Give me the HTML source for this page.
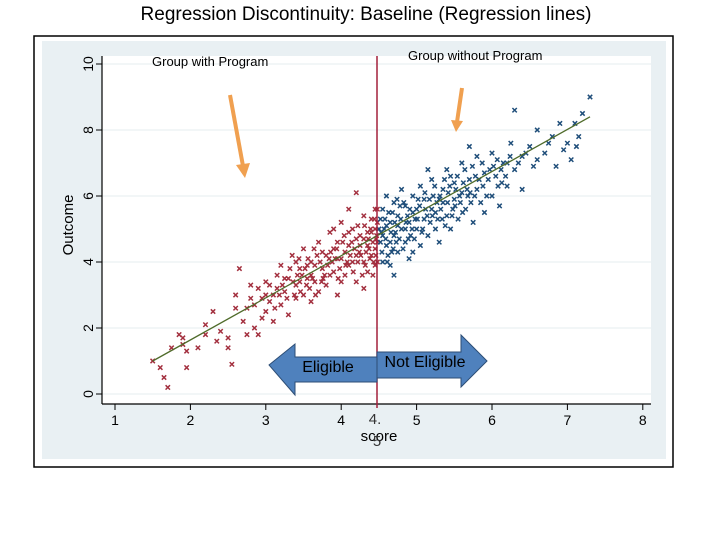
<!DOCTYPE html>
<html><head><meta charset="utf-8"><style>
body{margin:0;background:#fff;width:720px;height:540px;overflow:hidden;font-family:"Liberation Sans",sans-serif}
</style></head><body>
<svg width="720" height="540" xmlns="http://www.w3.org/2000/svg">
<text x="366" y="20" text-anchor="middle" font-size="19" fill="#000">Regression Discontinuity: Baseline  (Regression lines)</text>
<rect x="34" y="36" width="639" height="431" fill="none" stroke="#000" stroke-width="1.5"/>
<rect x="42" y="41" width="624" height="418" fill="#e9f0f3"/>
<rect x="102" y="56" width="549" height="348" fill="#fff"/>
<g id="grid"></g>
<g id="yaxis"></g>
<g id="xaxis"></g>
<g id="pts"></g>
<g id="fit"></g>
<line x1="377" y1="56" x2="377" y2="408" stroke="#a3203c" stroke-width="1.5"/>
<text transform="translate(73,225) rotate(-90)" text-anchor="middle" font-size="15">Outcome</text>
<text x="379" y="441" text-anchor="middle" font-size="15">score</text>
<text x="375" y="424" text-anchor="middle" font-size="15" fill="#333">4.</text>
<text x="377" y="446" text-anchor="middle" font-size="15" fill="#333">5</text>
<text x="152" y="66" font-size="13">Group with Program</text>
<text x="408" y="60" font-size="13">Group without Program</text>
<g><line x1="230" y1="95" x2="243" y2="166" stroke="#f0a050" stroke-width="4"/><polygon points="236,165 250,163 245,178" fill="#f0a050"/></g>
<g><line x1="462" y1="88" x2="457" y2="122" stroke="#f0a050" stroke-width="4"/><polygon points="451,120 463,121 456,132" fill="#f0a050"/></g>
<g><polygon points="269,365 295,344 295,357 377,357 377,382 295,382 295,395" fill="#4f81bd" stroke="#2c4d75" stroke-width="1"/><text x="328" y="372" text-anchor="middle" font-size="16" fill="#000">Eligible</text></g>
<g><polygon points="377,352 461,352 461,335 487,361 461,387 461,378 377,378" fill="#4f81bd" stroke="#2c4d75" stroke-width="1"/><text x="425" y="367" text-anchor="middle" font-size="16" fill="#000">Not Eligible</text></g>
</svg>
<script>
const yTicks=[0,2,4,6,8,10];
const xTicks=[1,2,3,4,5,6,7,8];
const fitX=[1.5,7.3];
const fitY=[1.0,8.4];
const redPts=[[1.5,1.0],[1.6,0.8],[1.65,0.5],[1.7,0.2],[1.75,1.4],[1.85,1.8],[1.9,1.7],[1.95,0.8],[1.95,1.3],[2.1,1.4],[2.2,2.1],[2.3,2.5],[2.35,1.6],[2.4,1.9],[2.5,1.4],[2.5,1.7],[2.55,0.9],[2.6,2.6],[2.65,3.8],[2.7,2.2],[2.75,1.8],[2.8,2.9],[2.85,2.0],[2.9,1.8],[2.9,3.2],[3.0,2.5],[3.0,3.4],[3.05,2.8],[3.1,3.0],[3.1,2.2],[3.15,3.6],[3.2,2.7],[3.2,3.9],[3.25,3.1],[3.3,2.4],[3.3,3.5],[3.35,4.2],[3.4,2.9],[3.4,3.3],[3.45,3.8],[3.5,3.0],[3.5,4.4],[3.55,3.5],[3.6,2.8],[3.6,4.0],[3.65,3.4],[3.7,4.6],[3.7,3.1],[3.75,3.8],[3.8,4.2],[3.8,3.3],[3.85,4.9],[3.9,3.7],[3.9,4.4],[3.95,3.0],[4.0,4.1],[4.0,5.2],[4.05,3.6],[4.1,4.5],[4.1,3.9],[4.15,5.0],[4.2,4.2],[4.2,3.4],[4.25,4.8],[4.3,4.0],[4.3,5.4],[4.35,4.5],[4.35,3.7],[4.4,4.9],[4.4,4.2],[4.45,5.6],[4.45,3.9],[4.48,4.6],[4.2,6.1],[4.0,3.4],[3.6,3.6],[3.4,4.0],[3.0,3.0],[2.8,3.3],[4.3,3.2],[4.48,5.2],[4.1,5.6],[3.9,5.0],[2.2,1.8],[1.9,1.5],[3.55,3.9],[3.75,4.3],[3.85,3.6],[3.95,4.6],[4.05,4.3],[4.15,4.0],[4.25,4.5],[4.35,4.9],[4.45,4.4],[4.4,5.3],[4.3,4.7],[4.2,4.7],[4.1,4.9],[3.95,4.1],[3.65,3.9],[3.45,3.4],[3.25,3.5],[3.15,3.2],[2.95,2.9],[4.45,5.0],[4.38,4.1],[4.28,3.6],[4.18,4.4],[4.08,4.0],[3.98,3.8],[3.88,4.0],[3.78,3.6],[3.68,4.2],[3.58,3.2],[3.48,3.6],[3.38,3.0],[4.47,4.8],[4.42,3.6],[4.33,4.3],[4.22,5.1],
[2.6,3.0],[2.75,2.6],[2.85,2.7],[2.95,2.3],[3.05,3.3],[3.12,2.6],[3.18,3.0],[3.22,3.3],[3.28,2.9],[3.32,3.8],[3.36,3.4],[3.42,3.6],[3.46,3.1],[3.52,3.8],[3.56,4.1],[3.62,3.5],[3.66,3.0],[3.72,4.0],[3.76,3.5],[3.82,3.9],[3.86,4.3],[3.92,4.1],[3.96,3.5],[4.02,4.6],[4.06,3.9],[4.12,4.2],[4.16,3.7],[4.22,4.0],[4.26,4.2],[4.32,3.9],[4.36,4.7],[4.42,4.6],[4.46,4.2],[4.48,4.0],[4.44,5.3],[4.39,5.0],[4.31,5.1],[4.24,4.3],[4.14,4.6],[4.04,4.8],[3.94,4.4],[3.84,4.1],[3.74,3.4],[3.64,4.4],[3.54,3.3],[3.44,4.1],[4.48,5.6],[4.46,4.7],[4.43,4.0],[4.37,4.4]];
const bluePts=[[4.5,5.0],[4.55,4.0],[4.55,5.6],[4.6,4.5],[4.6,6.0],[4.65,3.9],[4.65,5.2],[4.7,4.8],[4.7,5.8],[4.75,4.3],[4.75,5.4],[4.8,5.0],[4.8,6.2],[4.85,4.6],[4.85,5.7],[4.9,5.2],[4.9,4.1],[4.95,6.0],[5.0,5.0],[5.0,5.6],[5.05,4.5],[5.05,6.3],[5.1,5.3],[5.1,5.9],[5.15,4.8],[5.2,5.6],[5.2,6.5],[5.25,5.0],[5.3,5.9],[5.3,4.6],[5.35,6.2],[5.4,5.4],[5.4,6.8],[5.45,5.0],[5.5,5.9],[5.5,6.4],[5.55,5.3],[5.6,6.1],[5.6,7.0],[5.65,5.6],[5.7,6.5],[5.75,5.2],[5.8,6.2],[5.8,7.2],[5.85,5.8],[5.9,6.7],[6.0,6.0],[6.0,7.3],[6.05,6.6],[6.1,5.7],[6.15,7.0],[6.2,6.3],[6.25,7.6],[6.3,6.8],[6.4,7.2],[6.4,6.2],[6.5,7.5],[6.55,6.9],[6.6,8.0],[6.7,7.3],[6.8,7.8],[6.85,6.9],[6.9,8.2],[7.0,7.6],[7.05,7.1],[7.1,8.2],[7.15,7.8],[7.2,8.5],[7.3,9.0],[6.3,8.6],[5.7,7.5],[5.15,6.8],[4.95,4.3],[5.25,5.5],[4.6,5.1],[4.7,3.6],[5.9,5.5],[6.2,7.0],[5.35,5.8],[5.45,6.6],[4.52,4.6],[4.58,5.3],[4.62,4.2],[4.68,5.5],[4.72,4.9],[4.78,5.7],[4.82,4.4],[4.88,5.4],[4.92,4.8],[4.98,5.3],[5.02,5.9],[5.08,5.0],[5.12,5.6],[5.18,5.2],[5.22,6.0],[5.28,5.3],[5.32,5.6],[5.38,5.1],[5.42,6.1],[5.48,5.6],[5.52,6.2],[5.58,5.8],[5.62,6.4],[5.68,6.0],[5.72,5.8],[5.78,6.6],[5.88,6.3],[5.95,6.5],[6.08,6.3],[6.12,6.8],[4.55,4.8],[4.65,4.6],[4.75,5.1],[4.85,5.0],[4.95,5.5],
[4.52,5.3],[4.54,4.3],[4.57,5.0],[4.59,4.7],[4.63,5.5],[4.66,4.9],[4.69,4.4],[4.71,5.2],[4.74,5.9],[4.77,4.7],[4.79,5.3],[4.83,5.8],[4.86,5.2],[4.89,4.7],[4.91,5.6],[4.94,5.0],[4.97,4.7],[5.01,5.3],[5.04,5.7],[5.07,4.9],[5.11,6.1],[5.14,5.4],[5.17,5.9],[5.21,5.4],[5.24,6.3],[5.27,5.8],[5.31,6.0],[5.34,5.3],[5.37,6.5],[5.41,5.8],[5.44,6.3],[5.47,5.4],[5.51,5.7],[5.54,6.6],[5.57,6.0],[5.61,5.5],[5.64,6.8],[5.67,6.2],[5.71,6.1],[5.74,6.9],[5.77,6.0],[5.83,6.5],[5.87,7.0],[5.93,6.0],[5.97,6.8],[6.02,6.9],[6.07,7.1],[6.13,6.4],[6.18,6.6],[6.24,7.2],[6.35,7.0],[6.45,7.3],[6.6,7.1],[6.75,7.6],[6.95,7.4],[7.12,7.5],[4.53,4.9],[4.61,4.0],[4.67,4.3],[4.73,4.6]];
const X=v=>115+(v-1)*75.4, Y=v=>394-v*33;
const NS="http://www.w3.org/2000/svg";
function mk(t,a,p){const e=document.createElementNS(NS,t);for(const k in a)e.setAttribute(k,a[k]);p.appendChild(e);return e;}
const grid=document.getElementById('grid'),ya=document.getElementById('yaxis'),xa=document.getElementById('xaxis');
mk('line',{x1:102,y1:56,x2:102,y2:404,stroke:'#000','stroke-width':1.2},ya);
mk('line',{x1:102,y1:404,x2:651,y2:404,stroke:'#000','stroke-width':1.2},xa);
yTicks.forEach(v=>{
 const g=mk('line',{x1:102,y1:Y(v),x2:651,y2:Y(v),stroke:'#eaf0f2','stroke-width':1.2},grid);
 
 
 mk('line',{x1:96,y1:Y(v),x2:102,y2:Y(v),stroke:'#000'},ya);
 const t=mk('text',{transform:`translate(93,${Y(v)}) rotate(-90)`,'text-anchor':'middle','font-size':14},ya);t.textContent=v;
 
 
});
xTicks.forEach(v=>{
 mk('line',{x1:X(v),y1:404,x2:X(v),y2:410,stroke:'#000'},xa);
 const t=mk('text',{x:X(v),y:425,'text-anchor':'middle','font-size':14},xa);t.textContent=v;
 
 
});
const pts=document.getElementById('pts');
function cross(p,c){const x=X(p[0]),y=Y(p[1]),s=2.2;
 const e=mk('path',{d:`M${x-s},${y-s}L${x+s},${y+s}M${x-s},${y+s}L${x+s},${y-s}`,stroke:c,'stroke-width':1.5},pts);
 
 }
redPts.forEach(p=>cross(p,'#a3303f'));
bluePts.forEach(p=>cross(p,'#1f4e7a'));
const fl=mk('line',{x1:X(fitX[0]),y1:Y(fitY[0]),x2:X(fitX[1]),y2:Y(fitY[1]),stroke:'#4f6b2a','stroke-width':1.3},document.getElementById('fit'));


</script>
</body></html>
